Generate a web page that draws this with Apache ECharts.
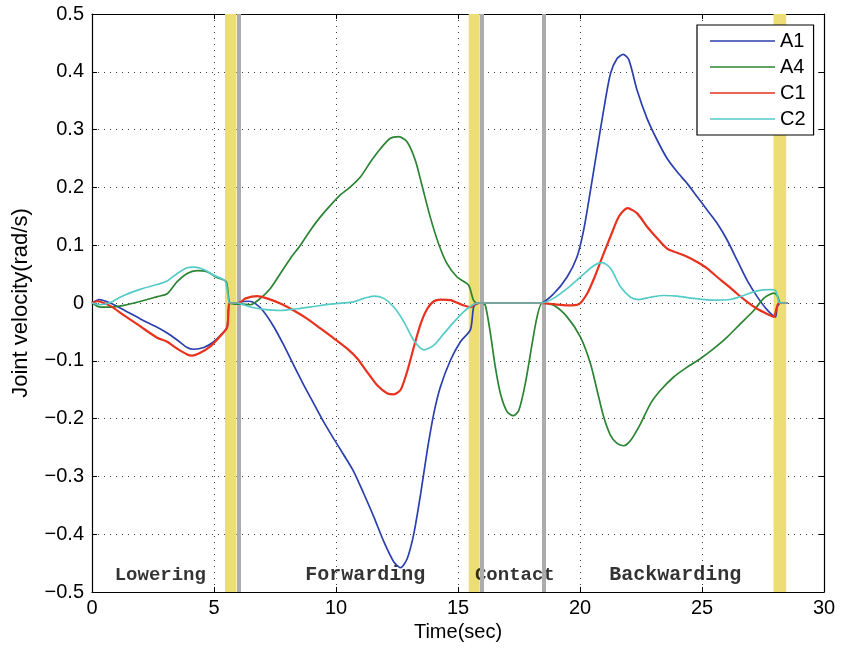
<!DOCTYPE html>
<html>
<head>
<meta charset="utf-8">
<script src="https://cdn.jsdelivr.net/npm/echarts@6/dist/echarts.min.js"></script>
<style>html,body{margin:0;padding:0;background:#fff;}#c{width:850px;height:649px;}</style>
</head>
<body>
<div id="c"></div>
<script>
// ---- data ----
const seriesNames = ['A1', 'A4', 'C1', 'C2'];

const a1T = [0, 0.3, 0.75, 1.3, 2.0, 2.67, 3.08, 3.49, 3.9, 4.17, 4.58, 4.99, 5.4, 5.54, 5.65, 6.0, 6.08, 6.42, 6.7, 7.04, 7.45, 7.86, 8.27, 8.68, 9.09, 9.5, 9.91, 10.32, 10.73, 11.14, 11.55, 11.96, 12.37, 12.65, 12.92, 13.19, 13.47, 13.74, 14.01, 14.28, 14.69, 15.1, 15.51, 15.64, 15.79, 16.0, 18.38, 18.92, 19.47, 19.88, 20.15, 20.43, 20.7, 20.97, 21.25, 21.52, 21.77, 22.0, 22.34, 22.75, 23.16, 23.57, 23.98, 24.39, 24.8, 25.21, 25.62, 26.03, 26.44, 26.85, 27.26, 27.67, 28.01, 28.08, 28.22, 28.5];
const a1V = [0, 0.006, 0.0, -0.012, -0.028, -0.042, -0.052, -0.064, -0.077, -0.080, -0.077, -0.067, -0.050, -0.042, 0, 0, 0.002, 0.003, -0.001, -0.015, -0.041, -0.073, -0.108, -0.142, -0.174, -0.206, -0.235, -0.263, -0.292, -0.330, -0.370, -0.413, -0.448, -0.458, -0.442, -0.399, -0.330, -0.255, -0.191, -0.145, -0.099, -0.067, -0.046, -0.007, -0.001, 0, 0, 0.016, 0.045, 0.080, 0.126, 0.195, 0.265, 0.334, 0.397, 0.423, 0.430, 0.421, 0.368, 0.319, 0.282, 0.250, 0.227, 0.207, 0.184, 0.161, 0.138, 0.109, 0.074, 0.039, 0.011, -0.012, -0.024, -0.007, 0, 0];

const a4T = [0, 0.34, 0.75, 1.3, 2.0, 2.67, 3.08, 3.49, 3.9, 4.3, 4.71, 5.12, 5.5, 5.65, 6.0, 6.08, 6.49, 6.9, 7.31, 7.72, 8.13, 8.54, 8.95, 9.36, 9.77, 10.18, 10.59, 11.0, 11.41, 11.82, 12.23, 12.57, 12.91, 13.25, 13.52, 13.86, 14.2, 14.55, 14.96, 15.43, 15.63, 15.77, 15.99, 16.12, 16.33, 16.53, 16.74, 17.01, 17.26, 17.49, 17.76, 18.04, 18.24, 18.45, 18.92, 19.47, 20.02, 20.43, 20.7, 20.97, 21.25, 21.52, 21.79, 22.07, 22.48, 22.89, 23.3, 23.84, 24.39, 24.94, 25.48, 26.03, 26.57, 27.12, 27.53, 27.94, 28.08, 28.22, 28.5];
const a4V = [0, -0.007, -0.007, -0.004, 0.003, 0.011, 0.016, 0.037, 0.051, 0.056, 0.054, 0.044, 0.037, 0, -0.002, -0.002, -0.003, 0.008, 0.025, 0.051, 0.077, 0.100, 0.126, 0.149, 0.169, 0.187, 0.201, 0.218, 0.244, 0.267, 0.285, 0.288, 0.279, 0.247, 0.204, 0.149, 0.103, 0.068, 0.045, 0.031, 0.005, 0, 0, -0.004, -0.053, -0.111, -0.157, -0.188, -0.195, -0.186, -0.139, -0.070, -0.024, 0, -0.004, -0.024, -0.059, -0.105, -0.151, -0.197, -0.229, -0.243, -0.247, -0.238, -0.209, -0.174, -0.151, -0.128, -0.111, -0.096, -0.079, -0.059, -0.036, -0.013, 0.008, 0.017, 0.013, 0, 0];

const c1T = [0, 0.2, 0.75, 1.3, 2.0, 2.67, 3.08, 3.49, 3.9, 4.1, 4.44, 4.85, 5.26, 5.54, 5.65, 6.0, 6.3, 6.77, 7.17, 7.72, 8.27, 8.81, 9.36, 9.91, 10.46, 10.87, 11.27, 11.68, 12.09, 12.37, 12.65, 12.92, 13.19, 13.47, 13.74, 14.01, 14.28, 14.69, 15.1, 15.51, 15.72, 15.9, 18.38, 18.92, 19.47, 19.95, 20.29, 20.6, 20.9, 21.25, 21.6, 21.95, 22.34, 22.75, 23.16, 23.57, 23.98, 24.39, 24.8, 25.21, 25.62, 26.03, 26.44, 26.85, 27.26, 27.67, 27.94, 28.05, 28.15, 28.5];
const c1V = [0, 0.003, -0.005, -0.021, -0.041, -0.060, -0.067, -0.079, -0.089, -0.091, -0.086, -0.075, -0.057, -0.042, 0, 0, 0.008, 0.012, 0.008, -0.001, -0.013, -0.027, -0.044, -0.061, -0.079, -0.096, -0.119, -0.142, -0.156, -0.158, -0.150, -0.118, -0.076, -0.036, -0.010, 0.003, 0.006, 0.005, -0.002, -0.007, -0.001, 0, 0, -0.002, -0.004, -0.002, 0.016, 0.045, 0.078, 0.115, 0.150, 0.164, 0.155, 0.132, 0.112, 0.094, 0.087, 0.080, 0.071, 0.060, 0.045, 0.031, 0.016, 0.002, -0.010, -0.019, -0.024, -0.010, 0, 0];

const c2T = [0, 0.34, 0.75, 1.3, 2.0, 2.67, 3.08, 3.49, 3.9, 4.17, 4.58, 4.99, 5.46, 5.65, 6.0, 6.08, 6.49, 7.04, 7.72, 8.4, 9.09, 9.77, 10.73, 11.14, 11.55, 11.96, 12.37, 12.79, 13.19, 13.6, 14.01, 14.42, 14.83, 15.24, 15.58, 15.8, 18.38, 18.92, 19.47, 20.02, 20.57, 20.91, 21.25, 21.66, 22.07, 22.41, 22.89, 23.43, 23.98, 24.67, 25.48, 26.16, 26.71, 27.26, 27.8, 28.01, 28.15, 28.28, 28.5];
const c2V = [0, -0.003, 0.001, 0.013, 0.024, 0.032, 0.038, 0.051, 0.061, 0.062, 0.058, 0.048, 0.038, 0, 0, -0.001, -0.007, -0.011, -0.013, -0.010, -0.006, -0.002, 0.002, 0.008, 0.012, 0.008, -0.007, -0.033, -0.065, -0.081, -0.073, -0.053, -0.033, -0.015, -0.004, 0, 0, 0.008, 0.025, 0.045, 0.065, 0.070, 0.060, 0.028, 0.010, 0.006, 0.010, 0.013, 0.012, 0.008, 0.005, 0.006, 0.013, 0.021, 0.023, 0.022, 0.002, 0, 0];

// phase bands (time, sec)
const yellowStart = [5.45, 15.44, 27.93];
const yellowEnd = [5.92, 15.89, 28.45];
const greyLines = [6.0, 15.97, 18.5];

// phase labels
const phaseNames = ['Lowering', 'Forwarding', 'Contact', 'Backwarding'];
const phaseT = [2.8, 11.2, 17.33, 23.9];
const phaseV = [-0.471, -0.471, -0.471, -0.471];

// axis ticks
const xTicks = [0, 5, 10, 15, 20, 25, 30];
const yTicks = [-0.5, -0.4, -0.3, -0.2, -0.1, 0, 0.1, 0.2, 0.3, 0.4, 0.5];

// ---- chart ----
const zip = (t, v) => t.map((x, i) => [x, v[i]]);
const colors = ['#2b3fae', '#2a8432', '#e8321e', '#55cbc8'];
const widths = [1.7, 1.7, 2.2, 1.7];
const phaseFont = [19, 20, 19, 20];
const allT = [a1T, a4T, c1T, c2T];
const allV = [a1V, a4V, c1V, c2V];
const FONT = 'Liberation Sans';

const chart = echarts.init(document.getElementById('c'), null, {renderer: 'canvas'});

const dotted = {show: true, lineStyle: {color: '#000', width: 1, type: [1, 5], opacity: 0.75}};
const axisCommon = {
  axisLine: {show: true, onZero: false, lineStyle: {color: '#000', width: 1.2}},
  axisTick: {show: true, inside: true, length: 5, lineStyle: {color: '#000'}},
};

const series = seriesNames.map((n, i) => ({
  name: n,
  type: 'line',
  data: zip(allT[i], allV[i]),
  symbol: 'none',
  smooth: 0.25,
  z: 5 + i,
  lineStyle: {color: colors[i], width: widths[i]},
  itemStyle: {color: colors[i]},
}));

const phaseLabel = {
  show: true, position: 'inside', formatter: p => p.name,
  fontFamily: 'Liberation Mono', fontWeight: 'bold', fontSize: 19, color: '#000'
};

series.push({
  name: 'phases',
  type: 'scatter',
  z: 2,
  symbolSize: 0,
  data: phaseNames.map((n, i) => ({
    name: n, value: [phaseT[i], phaseV[i]],
    label: Object.assign({}, phaseLabel, {fontSize: phaseFont[i]})
  })),
  label: phaseLabel,
  silent: true,
  markArea: {
    silent: true,
    itemStyle: {color: '#ecdd74', opacity: 1},
    data: yellowStart.map((s, i) => [{xAxis: s}, {xAxis: yellowEnd[i]}])
  },
  markLine: {
    silent: true, symbol: ['none', 'none'], label: {show: false},
    lineStyle: {color: '#acacac', width: 4, type: 'solid'},
    data: greyLines.map(t => ({xAxis: t}))
  }
});

chart.setOption({
  animation: false,
  backgroundColor: '#fff',
  grid: {left: 92, right: 26, top: 14, bottom: 57, containLabel: false},
  legend: {
    data: seriesNames,
    orient: 'vertical',
    left: 697, top: 25,
    icon: 'rect',
    itemWidth: 65, itemHeight: 1.5,
    itemGap: 6,
    padding: [6, 8, 6, 13],
    backgroundColor: '#fff',
    borderColor: '#000', borderWidth: 1.2,
    textStyle: {fontFamily: FONT, fontSize: 20, color: '#000'}
  },
  xAxis: [{
    type: 'value', min: 0, max: 30, interval: 5,
    name: 'Time(sec)', nameLocation: 'middle', nameGap: 30,
    nameTextStyle: {fontFamily: FONT, fontSize: 20, color: '#000'},
    axisLabel: {fontFamily: FONT, fontSize: 20, color: '#000', margin: 6, formatter: v => xTicks.includes(v) ? String(v) : ''},
    splitLine: dotted,
    ...axisCommon
  }, {
    type: 'value', min: 0, max: 30, interval: 5, position: 'top',
    axisLabel: {show: false}, splitLine: {show: false},
    ...axisCommon
  }],
  yAxis: [{
    type: 'value', min: -0.5, max: 0.5, interval: 0.1,
    name: 'Joint velocity(rad/s)', nameLocation: 'middle', nameGap: 60,
    nameTextStyle: {fontFamily: FONT, fontSize: 22, color: '#000'},
    axisLabel: {fontFamily: FONT, fontSize: 20, color: '#000', margin: 8,
      formatter: v => { const r = Math.round(v * 10) / 10; return r === 0 ? '0' : (r < 0 ? '\u2212' + Math.abs(r).toFixed(1) : r.toFixed(1)); }},
    splitLine: dotted,
    ...axisCommon
  }, {
    type: 'value', min: -0.5, max: 0.5, interval: 0.1, position: 'right',
    axisLabel: {show: false}, splitLine: {show: false},
    ...axisCommon
  }],
  series: series
});
</script>
</body>
</html>
